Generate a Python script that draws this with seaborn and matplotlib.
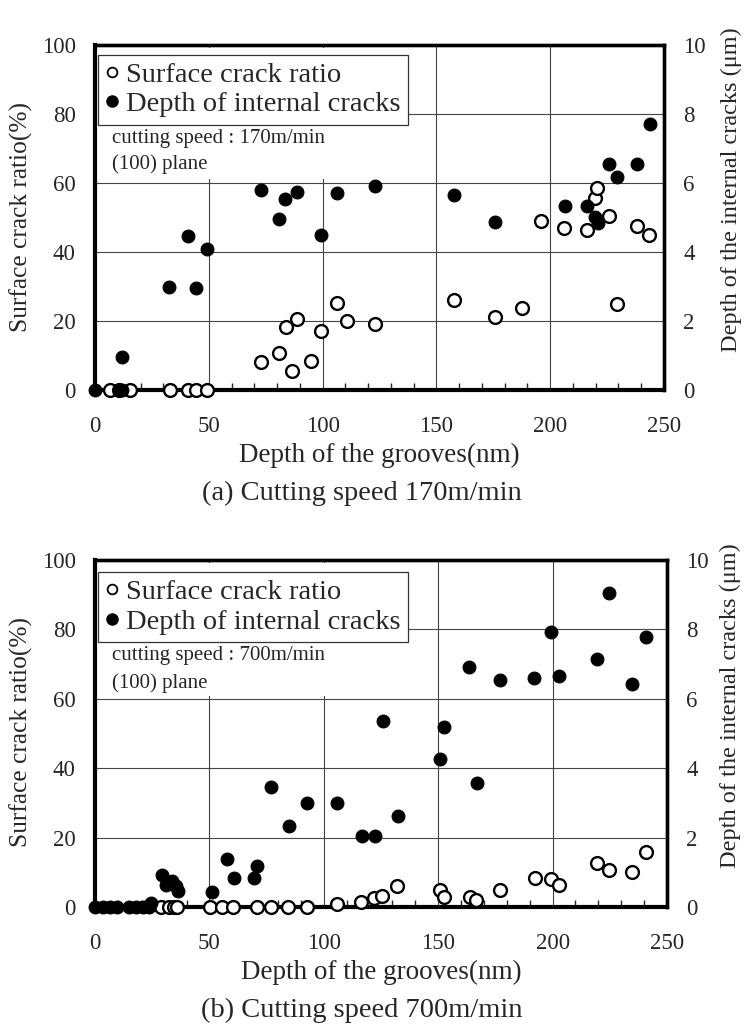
import matplotlib
matplotlib.use("Agg")
import matplotlib.pyplot as plt
from matplotlib.lines import Line2D
from matplotlib.patches import Rectangle
from matplotlib.ticker import MultipleLocator
import seaborn as sns
import pandas as pd

sns.set_style("white")
plt.rcParams['font.family'] = ['Liberation Serif', 'DejaVu Serif']

# ---------------- data ----------------
# Panel (a) 170 m/min
a_surf_x = [6.6, 10.5, 15.4, 33.0, 40.7, 44.4, 49.1,
            72.8, 80.8, 83.8, 86.7, 88.9, 94.8, 99.4, 106.2, 110.9, 123.0,
            157.7, 175.7, 187.5, 195.8, 206.0, 216.3, 219.7, 220.7, 226.0,
            229.5, 238.3, 243.5]
a_surf_y = [0, 0, 0, 0, 0, 0, 0,
            8.2, 10.6, 18.2, 5.6, 20.5, 8.4, 17.1, 25.1, 20.0, 19.0,
            26.1, 21.1, 23.7, 49.0, 46.9, 46.4, 55.6, 58.6, 50.5,
            24.8, 47.6, 44.9]
a_depth_x = [0.0, 10.5, 12.0, 11.7, 32.5, 40.7, 44.4, 49.1, 72.8, 80.8, 83.5,
             88.9, 99.2, 106.2, 123.0, 157.7, 175.7, 206.5, 216.3, 219.8,
             221.2, 226.0, 229.5, 238.3, 243.8]
a_depth_y = [0, 0, 0, 0.97, 2.98, 4.45, 2.95, 4.10, 5.80, 4.95, 5.53,
             5.75, 4.49, 5.70, 5.91, 5.65, 4.88, 5.33, 5.33, 5.00,
             4.85, 6.55, 6.16, 6.55, 7.71]

# Panel (b) 700 m/min
b_surf_x = [28.7, 32.5, 34.5, 36.0, 50.2, 55.4, 60.4, 71.0, 77.0, 84.4, 92.6,
            105.9, 116.4, 122.0, 125.3, 132.0, 150.7, 152.4, 164.0, 166.4,
            177.0, 192.3, 199.2, 202.9, 219.5, 224.8, 234.6, 240.7]
b_surf_y = [0, 0, 0, 0, 0, 0, 0, 0, 0, 0, 0,
            0.8, 1.5, 2.5, 3.2, 6.0, 5.0, 3.0, 3.0, 2.0,
            5.0, 8.3, 8.0, 6.3, 12.8, 10.6, 10.0, 15.8]
b_depth_x = [0.2, 3.3, 6.4, 9.6, 14.8, 17.9, 21.0, 23.5, 24.5,
             29.4, 31.0, 33.8, 35.4, 36.2, 51.3, 57.5, 60.9, 69.6, 70.7,
             76.8, 84.8, 92.8, 105.6, 116.7, 122.5, 126.0, 132.6, 150.8,
             152.5, 163.6, 166.8, 177.0, 191.9, 199.2, 202.9, 219.5, 224.8,
             234.6, 240.7]
b_depth_y = [0, 0, 0, 0, 0, 0, 0, 0, 0.12,
             0.92, 0.62, 0.75, 0.60, 0.45, 0.42, 1.38, 0.85, 0.85, 1.19,
             3.47, 2.33, 3.00, 3.00, 2.05, 2.05, 5.36, 2.63, 4.27,
             5.20, 6.91, 3.58, 6.54, 6.61, 7.93, 6.67, 7.15, 9.06,
             6.42, 7.79]

x_ticks = [0, 50, 100, 150, 200, 250]
left_ticks = [0, 20, 40, 60, 80, 100]
right_ticks = [0, 2, 4, 6, 8, 10]
legend_labels = ["Surface crack ratio", "Depth of internal cracks"]
xlabel = "Depth of the grooves(nm)"
ylabel_l = "Surface crack ratio(%)"
ylabel_r = "Depth of the internal cracks (μm)"

panels = [
    dict(sx=a_surf_x, sy=a_surf_y, dx=a_depth_x, dy=a_depth_y,
         speed="cutting speed : 170m/min", caption="(a) Cutting speed 170m/min",
         rect=[95/748, 1-390/1033, 569/748, 345/1033],
         leg_top=0.971, white_bottom=0.612, t1=0.73, t2=0.655,
         yl=0.50, yr=0.58, xl=-0.109, xr=1.099, cap_y=1-493/1033),
    dict(sx=b_surf_x, sy=b_surf_y, dx=b_depth_x, dy=b_depth_y,
         speed="cutting speed : 700m/min", caption="(b) Cutting speed 700m/min",
         rect=[95/748, 1-907/1033, 572/748, 347/1033],
         leg_top=0.965, white_bottom=0.607, t1=0.726, t2=0.645,
         yl=0.505, yr=0.58, xl=-0.108, xr=1.093, cap_y=1-1010/1033),
]

fig = plt.figure(figsize=(7.48, 10.33), dpi=100)

for p in panels:
    ax = fig.add_axes(p["rect"])
    ax2 = ax.twinx()
    ax.set_zorder(1)
    ax2.set_zorder(2)
    ax2.patch.set_visible(False)

    ax.set_xlim(0, 250)
    ax.set_ylim(0, 100)
    ax2.set_ylim(0, 10)
    ax.set_xticks(x_ticks)
    ax.set_yticks(left_ticks)
    ax2.set_yticks(right_ticks)
    ax.xaxis.set_minor_locator(MultipleLocator(10))

    ax.grid(True, which="major", color="#444444", linewidth=0.8)
    ax.set_axisbelow(True)

    # white area behind legend and annotation
    ax.add_patch(Rectangle((0.003, p["white_bottom"]), 0.53, 0.99 - p["white_bottom"],
                           transform=ax.transAxes, facecolor="white",
                           edgecolor="none", zorder=1.5))

    sns.scatterplot(x=p["sx"], y=p["sy"], ax=ax, marker="o", s=85,
                    facecolor="white", edgecolor="black", linewidth=1.7,
                    clip_on=False, zorder=3, legend=False)
    sns.scatterplot(x=p["dx"], y=p["dy"], ax=ax2, marker="o", s=85,
                    color="black", edgecolor="black", linewidth=0.8,
                    clip_on=False, zorder=4, legend=False)

    for a_ in (ax, ax2):
        for side in ("left", "right", "top", "bottom"):
            a_.spines[side].set_color("black")
            a_.spines[side].set_linewidth(2.4)
    ax2.spines["bottom"].set_visible(False)
    ax2.spines["left"].set_visible(False)
    ax.spines["left"].set_linewidth(3.0)
    ax.spines["bottom"].set_linewidth(3.0)

    ax.tick_params(axis="y", which="major", length=0, labelsize=16.5, pad=14)
    ax.tick_params(axis="x", which="major", length=0, labelsize=16.5, pad=19)
    ax.tick_params(axis="x", which="minor", direction="in", length=5,
                   width=1.0, bottom=True, top=False)
    ax2.tick_params(axis="y", which="major", length=0, labelsize=16.5, pad=14)

    ax.set_xlabel(xlabel, fontsize=19.5, labelpad=4)
    ax.set_ylabel(ylabel_l, fontsize=18.3)
    ax.yaxis.set_label_coords(p["xl"], p["yl"])
    ax2.set_ylabel(ylabel_r, fontsize=17.5)
    ax2.yaxis.set_label_coords(p["xr"], p["yr"])

    handles = [Line2D([], [], marker="o", linestyle="none", markersize=7,
                      markerfacecolor="white", markeredgecolor="black",
                      markeredgewidth=1.3),
               Line2D([], [], marker="o", linestyle="none", markersize=8,
                      markerfacecolor="black", markeredgecolor="black")]
    leg = ax2.legend(handles, legend_labels, loc="upper left",
                     bbox_to_anchor=(0.005, p["leg_top"]), fontsize=20.5,
                     frameon=True, fancybox=False, framealpha=1,
                     edgecolor="#333333", handlelength=0.5,
                     handletextpad=0.25, borderpad=0.25, labelspacing=0.12,
                     borderaxespad=0)
    leg.get_frame().set_linewidth(0.9)

    ax2.text(0.03, p["t1"], p["speed"], transform=ax.transAxes,
             fontsize=15, va="center", ha="left", zorder=6)
    ax2.text(0.03, p["t2"], "(100) plane", transform=ax.transAxes,
             fontsize=15, va="center", ha="left", zorder=6)

    fig.text(362/748, p["cap_y"], p["caption"], fontsize=20.5,
             ha="center", va="center")

fig.savefig("out.png", dpi=100)
